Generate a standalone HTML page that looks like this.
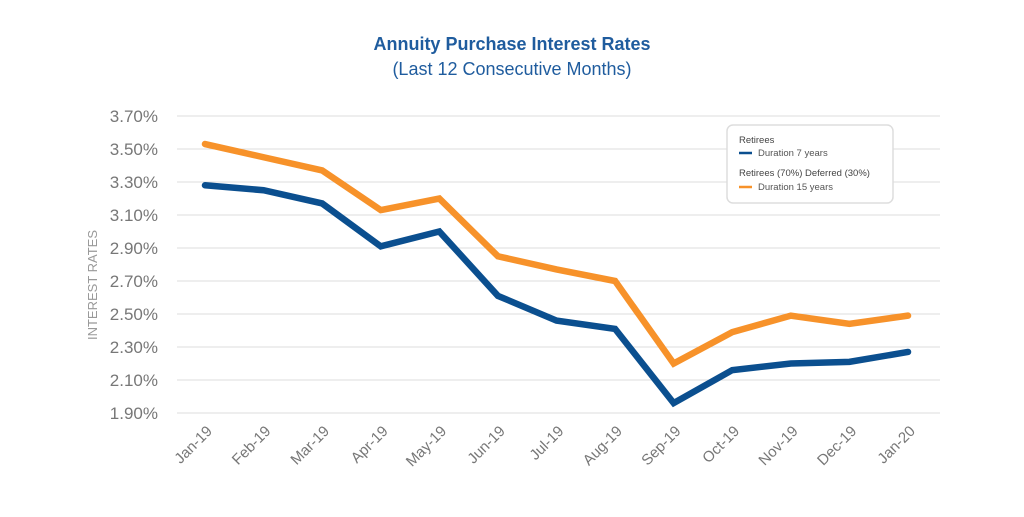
<!DOCTYPE html>
<html><head><meta charset="utf-8"><style>
body{margin:0;background:#fff;width:1024px;height:512px;overflow:hidden}
svg{font-family:"Liberation Sans",sans-serif}
</style></head><body>
<svg id="c" width="1024" height="512">
<text x="512" y="50" text-anchor="middle" font-size="18" font-weight="bold" fill="#1f5c9e">Annuity Purchase Interest Rates</text>
<text x="512" y="75" text-anchor="middle" font-size="18" fill="#1f5c9e">(Last 12 Consecutive Months)</text>
<text transform="translate(97,285) rotate(-90)" text-anchor="middle" font-size="13" fill="#999">INTEREST RATES</text>
<g id="grid"></g><g id="xt"></g><g id="lines"></g>
<g>
<rect x="727" y="125" width="166" height="78" rx="6" fill="#fff" stroke="#ddd" stroke-width="1.5"/>
<text x="739" y="143" font-size="9.5" fill="#444">Retirees</text>
<line x1="739" y1="153" x2="752" y2="153" stroke="#0b4f8f" stroke-width="2.5"/>
<text x="758" y="156" font-size="9.5" fill="#555">Duration 7 years</text>
<text x="739" y="176" font-size="9.5" fill="#444">Retirees (70%) Deferred (30%)</text>
<line x1="739" y1="187" x2="752" y2="187" stroke="#f7922a" stroke-width="2.5"/>
<text x="758" y="190" font-size="9.5" fill="#555">Duration 15 years</text>
</g>
</svg>
<script>
const categories=["Jan-19","Feb-19","Mar-19","Apr-19","May-19","Jun-19","Jul-19","Aug-19","Sep-19","Oct-19","Nov-19","Dec-19","Jan-20"];
const retirees=[3.28,3.25,3.17,2.91,3.00,2.61,2.46,2.41,1.96,2.16,2.20,2.21,2.27];
const deferred=[3.53,3.45,3.37,3.13,3.20,2.85,2.77,2.70,2.20,2.39,2.49,2.44,2.49];
const yTicks=[1.90,2.10,2.30,2.50,2.70,2.90,3.10,3.30,3.50,3.70];
const NS="http://www.w3.org/2000/svg";
const y=v=>413-(v-1.9)/1.8*297;
const x=i=>205+i*(908-205)/(categories.length-1);
function mk(t,a,p){const e=document.createElementNS(NS,t);for(const k in a)e.setAttribute(k,a[k]);p.appendChild(e);return e;}
const g=document.getElementById('grid');
yTicks.forEach(v=>{
 const l=mk('line',{x1:177,x2:940,y1:y(v),y2:y(v),stroke:'#ddd','stroke-width':1},g);
 
 
 const t=mk('text',{x:158,y:y(v)+6,'text-anchor':'end','font-size':17,fill:'#777'},g);
 t.textContent=v.toFixed(2)+'%';
 
 
});
const xt=document.getElementById('xt');
categories.forEach((c,i)=>{
 const t=mk('text',{transform:`translate(${x(i)+8},${432}) rotate(-45)`,'text-anchor':'end','font-size':15,fill:'#777'},xt);
 t.textContent=c;
 
 
});
const L=document.getElementById('lines');
[[deferred,'#f7922a','series-deferred-line'],[retirees,'#0b4f8f','series-retirees-line']].forEach(([d,col,n])=>{
 const p=mk('polyline',{points:d.map((v,i)=>x(i)+','+y(v)).join(' '),fill:'none',stroke:col,'stroke-width':6.5,'stroke-linejoin':'miter','stroke-linecap':'round'},L);
 
 
});
</script>
</body></html>
